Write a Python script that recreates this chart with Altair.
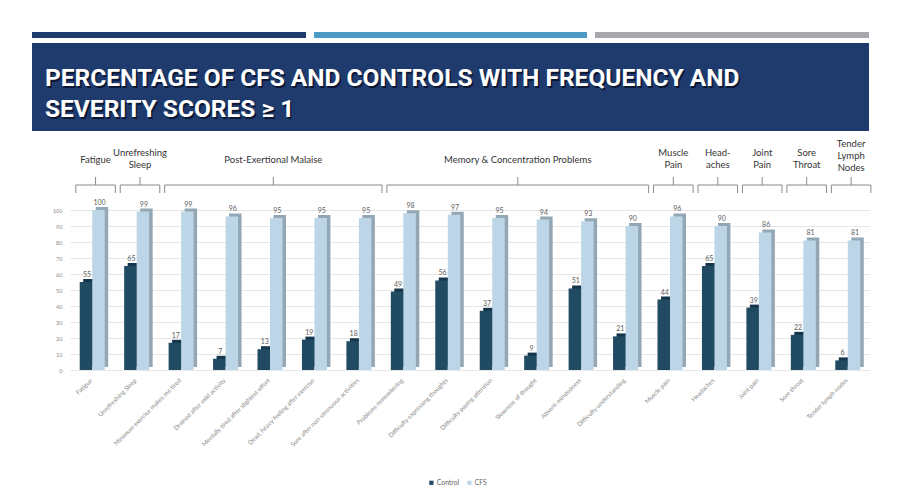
import altair as alt
import pandas as pd

# ---------------- data ----------------
categories = [
    "Fatigue", "Unrefreshing Sleep", "Minimum exercise makes me tired",
    "Drained after mild activity", "Mentally tired after slightest effort",
    "Dead, heavy feeling after exercise", "Sore after non-strenuous activities",
    "Problems remembering", "Difficulty expressing thoughts",
    "Difficulty paying attention", "Slowness of thought", "Absent-mindedness",
    "Difficulty understanding", "Muscle pain", "Headaches", "Joint pain",
    "Sore throat", "Tender lymph nodes",
]
control = [55, 65, 17, 7, 13, 19, 18, 49, 56, 37, 9, 51, 21, 44, 65, 39, 22, 6]
cfs = [100, 99, 99, 96, 95, 95, 95, 98, 97, 95, 94, 93, 90, 96, 90, 86, 81, 81]
series_names = ["Control", "CFS"]

group_labels = [
    "Fatigue", "Unrefreshing\nSleep", "Post-Exertional Malaise",
    "Memory & Concentration Problems", "Muscle\nPain", "Head-\naches",
    "Joint\nPain", "Sore\nThroat", "Tender\nLymph\nNodes",
]
group_first = [0, 1, 2, 7, 13, 14, 15, 16, 17]
group_last = [0, 1, 6, 12, 13, 14, 15, 16, 17]

title_lines = ["PERCENTAGE OF CFS AND CONTROLS WITH FREQUENCY AND",
               "SEVERITY SCORES \u2265 1"]

# ---------------- styles ----------------
series_colors = ["#214b63", "#bdd6e7"]
shadow_colors = ["#16364b", "#94a7b5"]
navy = "#1f3a6d"
stripe_colors = ["#1f3a6d", "#4b9ac6", "#a7a8ad"]
W, H = 800, 160
N = len(categories)
BW = 12.5

df = pd.DataFrame({"category": categories, "Control": control, "CFS": cfs})
long = df.melt(id_vars=["category"], value_vars=series_names,
               var_name="series", value_name="pct")
groups = pd.DataFrame({"label": group_labels, "first": group_first, "last": group_last})


def xcat(show_axis=False):
    axis = None
    if show_axis:
        axis = alt.Axis(labelAngle=-45, labelAlign="right", labelBaseline="middle",
                        labelFontSize=6.2, labelFont="Lato", labelColor="#8a8a8a",
                        labelPadding=9, labelOffset=-1, ticks=False, tickSize=0,
                        domain=False, labelLimit=300, title=None)
    return alt.X("category:N", sort=categories,
                 scale=alt.Scale(paddingInner=0.4375, paddingOuter=0.21875),
                 axis=axis, title=None)


Y_AXIS = alt.Axis(values=list(range(0, 101, 10)), labelFontSize=5.5,
                  labelFont="Lato", labelColor="#8a8a8a", labelPadding=8,
                  ticks=False, tickSize=0, domain=False, gridColor="#e6e6e6",
                  gridWidth=1, title=None)


def ycat():
    return alt.Y("pct:Q", scale=alt.Scale(domain=[0, 100], nice=False), axis=Y_AXIS, title=None)


def qx(f):
    return alt.X(f"{f}:Q", scale=alt.Scale(domain=[0, N], nice=False, zero=False), axis=None)


base = alt.Chart(long)
layers = []

# bars with a simple 3D look (shadow face behind each bar)
for i, name in enumerate(series_names):
    off = -BW / 2 if i == 0 else BW / 2
    sub = base.transform_filter(alt.datum.series == name)
    layers.append(sub.mark_bar(width=BW, xOffset=off + 3.5, yOffset=-3, y2Offset=-3,
                               color=shadow_colors[i]).encode(x=xcat(show_axis=(i == 0)), y=ycat()))
    layers.append(sub.mark_bar(width=BW, xOffset=off).encode(
        x=xcat(), y=ycat(),
        color=alt.Color("series:N", scale=alt.Scale(domain=series_names, range=series_colors),
                        legend=alt.Legend(orient="none", legendX=358, legendY=269,
                                          direction="horizontal", title=None,
                                          symbolType="square", symbolSize=18,
                                          symbolStrokeWidth=0, labelFontSize=6.8,
                                          labelFont="Lato", labelColor="#666666",
                                          columnPadding=6, labelOffset=2))))
for i, name in enumerate(series_names):
    off = -BW / 2 if i == 0 else BW / 2
    sub = base.transform_filter(alt.datum.series == name)
    layers.append(sub.mark_text(xOffset=off + 1, dy=-5, fontSize=7, font="Lato",
                                color="#5e5e5e", baseline="alphabetic").encode(
        x=xcat(), y=ycat(), text="pct:Q"))

# group brackets and labels
ann = alt.Chart(groups).transform_calculate(
    bx="datum.first + 0.13", bx2="datum.last + 1.02",
    mid="(datum.first + datum.last + 1.15) / 2",
    nlines="split(datum.label, '\\n').length")
bcol = "#8a8a8a"
layers.append(ann.mark_rule(color=bcol, strokeWidth=1).encode(
    x=qx("bx"), x2="bx2:Q", y=alt.value(-25)))
layers.append(ann.mark_rule(color=bcol, strokeWidth=1).encode(
    x=qx("bx"), y=alt.value(-25), y2=alt.value(-17)))
layers.append(ann.mark_rule(color=bcol, strokeWidth=1).encode(
    x=qx("bx2"), y=alt.value(-25), y2=alt.value(-17)))
layers.append(ann.mark_rule(color=bcol, strokeWidth=1).encode(
    x=qx("mid"), y=alt.value(-33), y2=alt.value(-25)))
for n, yv in [(1, -50), (2, -57.5), (3, -66)]:
    layers.append(ann.transform_filter(alt.datum.nlines == n).mark_text(
        lineBreak="\n", baseline="middle", align="center",
        font="Lato", fontSize=9.5, color="#333333", lineHeight=12).encode(
        x=qx("mid"), y=alt.value(yv), text="label:N"))

# slide header: stripes, banner, title
deco = alt.Chart(alt.Data(values=[{"k": 1}]))
stripe_x = [(-38, 236), (244, 517), (525, 799)]
for c, (a, b) in zip(stripe_colors, stripe_x):
    layers.append(deco.mark_rect(color=c).encode(
        x=alt.value(a), x2=alt.value(b), y=alt.value(-178), y2=alt.value(-172)))
layers.append(deco.mark_rect(color=navy).encode(
    x=alt.value(-38), x2=alt.value(799), y=alt.value(-167), y2=alt.value(-79)))
tfont = "Roboto"
layers.append(deco.mark_text(text=title_lines, align="left", baseline="alphabetic",
                             font=tfont, fontWeight="bold", fontSize=24.5, lineHeight=31,
                             color="#08122a", opacity=0.85).encode(
    x=alt.value(-23.5), y=alt.value(-122.5)))
layers.append(deco.mark_text(text=title_lines, align="left", baseline="alphabetic",
                             font=tfont, fontWeight="bold", fontSize=24.5, lineHeight=31,
                             color="#ffffff").encode(
    x=alt.value(-25), y=alt.value(-124)))

chart = alt.layer(*layers).resolve_scale(x="independent").properties(
    width=W, height=H,
    padding={"left": 62, "top": 202, "right": 26, "bottom": 124},
    autosize=alt.AutoSizeParams(type="none"),
    background="white",
).configure_view(strokeWidth=0)

chart.save("out.html", embed_options={"renderer": "svg", "actions": False})
